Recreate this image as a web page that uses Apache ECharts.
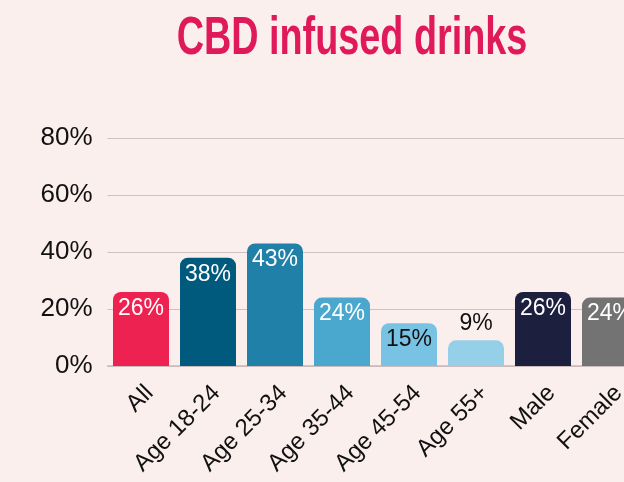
<!DOCTYPE html>
<html><head><meta charset="utf-8">
<script src="https://cdn.jsdelivr.net/npm/echarts@6/dist/echarts.min.js"></script>
<style>html,body{margin:0;padding:0;background:#fbefed;}#c{width:624px;height:482px;}</style>
</head><body><div id="c"></div>
<script>
const titleText = 'CBD infused drinks';
const categories = ['All','Age 18-24','Age 25-34','Age 35-44','Age 45-54','Age 55+','Male','Female'];
const values = [26, 38, 43, 24, 15, 9, 26, 24];
const barColors = ['#ee2250','#005a7e','#2180a8','#4aa8ce','#78c3e4','#95cfe8','#1c1f3d','#737373'];
const labelColors = ['#fff','#fff','#fff','#fff','#111','#111','#fff','#fff'];
const labelPos = ['insideTop','insideTop','insideTop','insideTop','insideTop','top','insideTop','insideTop'];
const yTicks = [0, 20, 40, 60, 80];

const chart = echarts.init(document.getElementById('c'));
chart.setOption({
  backgroundColor: '#fbefed',
  graphic: [{
    type: 'text', x: 352, y: 39, scaleX: 0.7,
    style: {
      text: titleText, x: 0, y: 0, textAlign: 'center', textVerticalAlign: 'middle',
      font: 'bold 54px "Liberation Sans", Arial, sans-serif', fill: '#e0195a'
    }
  }],
  grid: { left: 107.5, width: 536, top: 138, bottom: 116, containLabel: false, outerBoundsMode: 'none' },
  xAxis: {
    type: 'category', data: categories,
    axisLine: { lineStyle: { color: '#c9b9b9', width: 1.5 } },
    axisTick: { show: false },
    axisLabel: { rotate: 45, interval: 0, margin: 15, verticalAlign: 'top', color: '#111', fontSize: 24, fontFamily: 'Liberation Sans' }
  },
  yAxis: {
    type: 'value', min: yTicks[0], max: yTicks[yTicks.length-1], interval: 20,
    axisLine: { show: false }, axisTick: { show: false },
    splitLine: { lineStyle: { color: '#cbc3c3', width: 1 } },
    axisLabel: { formatter: '{value}%', color: '#111', fontSize: 26, margin: 15, fontFamily: 'Liberation Sans' }
  },
  series: [{
    type: 'bar', barCategoryGap: '16.4%',
    data: values.map((v, i) => ({
      value: v,
      itemStyle: { color: barColors[i], borderRadius: [8, 8, 0, 0] },
      label: { show: true, position: labelPos[i], distance: 5, color: labelColors[i], formatter: '{c}%', fontSize: 23, fontFamily: 'Liberation Sans' }
    }))
  }]
});
</script></body></html>
